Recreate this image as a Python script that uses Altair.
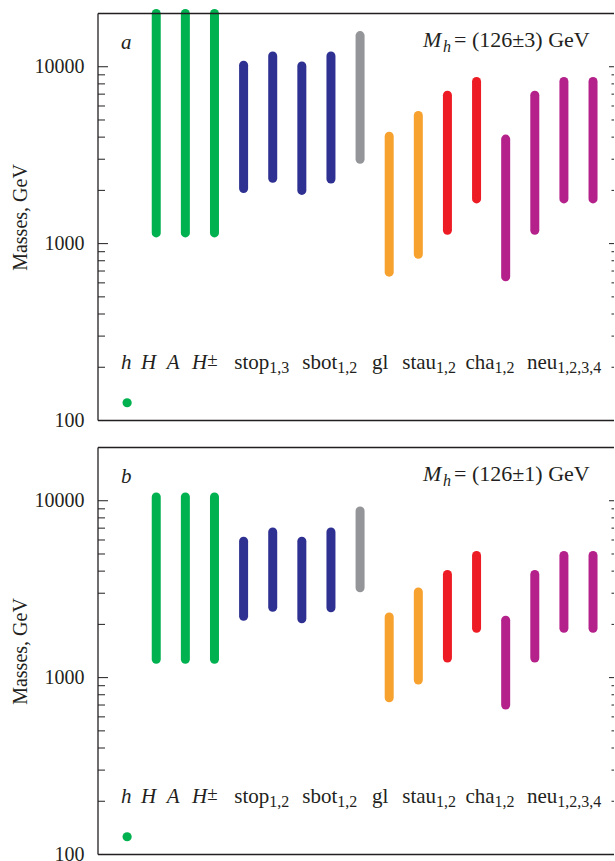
import altair as alt
import pandas as pd

FONT = "Liberation Serif"
INK = "#231f20"

# ---- data -------------------------------------------------------------
positions = list(range(1, 17))
bar_colors = (["#00b14f"] * 3 + ["#2e3192"] * 4 + ["#939598"] +
              ["#f7a12f"] * 2 + ["#ed1c24"] * 2 + ["#b5218a"] * 4)

h_mass = 126
h_pos = 0

# panel a: M_h = 126 +- 3 GeV
a_low = [1150, 1150, 1150, 2050, 2340, 2000, 2320, 3000, 690, 870, 1190, 1790, 650, 1190, 1790, 1790]
a_high = [20000, 20000, 20000, 10200, 11500, 10100, 11500, 15000, 4050, 5300, 6900, 8250, 3900, 6900, 8250, 8250]

# panel b: M_h = 126 +- 1 GeV
b_low = [1270, 1270, 1270, 2220, 2500, 2150, 2480, 3220, 770, 970, 1290, 1900, 700, 1290, 1900, 1900]
b_high = [10500, 10500, 10500, 5900, 6660, 5900, 6660, 8760, 2200, 3050, 3830, 4900, 2110, 3830, 4900, 4900]

major_ticks = [100, 1000, 10000]
minor_ticks = [200, 300, 400, 500, 600, 700, 800, 900,
               2000, 3000, 4000, 5000, 6000, 7000, 8000, 9000]

label_main = ["h", "H", "A", "H", "stop", "sbot", "gl", "stau", "cha", "neu"]
label_italic = [True, True, True, True, False, False, False, False, False, False]
label_anchor = [0.15, 1.0, 1.8, 2.75, 4.88, 7.22, 8.97, 10.61, 12.62, 14.77]
label_sup = ["", "", "", "±", "", "", "", "", "", ""]
label_sub_a = ["", "", "", "", "1,3", "1,2", "", "1,2", "1,2", "1,2,3,4"]
label_sub_b = ["", "", "", "", "1,2", "1,2", "", "1,2", "1,2", "1,2,3,4"]

W, H = 516, 407
X_MAX = 16.72

YAXIS = alt.Axis(values=major_ticks, format="d", ticks=False, domain=False,
                 grid=False, labelFont=FONT, labelFontSize=20, labelColor=INK,
                 labelPadding=14, titleFont=FONT, titleFontSize=20,
                 titleFontWeight="normal", titleColor=INK, titlePadding=4,
                 title="Masses, GeV")


def panel(low, high, subs, letter, mh_rest):
    ys = alt.Scale(type="log", domain=[100, 20000], nice=False)
    xs = alt.Scale(domain=[-1, X_MAX], nice=False, zero=False)

    def Y(field):
        return alt.Y(field, scale=ys, axis=YAXIS)

    def X(field):
        return alt.X(field, scale=xs, axis=None)

    bars = pd.DataFrame({"pos": positions, "low": low, "high": high, "color": bar_colors})
    bar_layer = alt.Chart(bars).mark_rule(strokeWidth=9, strokeCap="round").encode(
        x=X("pos:Q"), y=Y("low:Q"), y2="high:Q",
        color=alt.Color("color:N", scale=None),
    )

    hdf = pd.DataFrame({"pos": [h_pos], "m": [h_mass]})
    h_layer = alt.Chart(hdf).mark_circle(size=85, color="#00b14f", opacity=1).encode(
        x=X("pos:Q"), y=Y("m:Q"))

    maj = pd.DataFrame({"v": major_ticks})
    mnr = pd.DataFrame({"v": minor_ticks})
    tick_layers = []
    for df, ln, rn in ((maj, 10, 5), (mnr, 7, 2.5)):
        tick_layers.append(alt.Chart(df).mark_rule(color=INK, strokeWidth=1).encode(
            y=Y("v:Q"), x=alt.value(0), x2=alt.value(ln)))
        tick_layers.append(alt.Chart(df).mark_rule(color=INK, strokeWidth=1).encode(
            y=Y("v:Q"), x=alt.value(W), x2=alt.value(W - rn)))

    lab = pd.DataFrame({"main": label_main, "it": label_italic, "x": label_anchor,
                        "sub": subs, "sup": label_sup})
    lab_it = alt.Chart(lab).transform_filter("datum.it").mark_text(
        font=FONT, fontSize=21, fontStyle="italic", align="right", baseline="alphabetic",
        color=INK).encode(x=X("x:Q"), y=alt.value(355), text="main:N")
    lab_rm = alt.Chart(lab).transform_filter("!datum.it").mark_text(
        font=FONT, fontSize=21, align="right", baseline="alphabetic",
        color=INK).encode(x=X("x:Q"), y=alt.value(355), text="main:N")
    lab_sub = alt.Chart(lab).transform_filter("datum.sub != ''").mark_text(
        font=FONT, fontSize=16, align="left", baseline="alphabetic",
        color=INK).encode(x=X("x:Q"), y=alt.value(359), text="sub:N")
    lab_sup = alt.Chart(lab).transform_filter("datum.sup != ''").mark_text(
        font=FONT, fontSize=19, align="left", baseline="alphabetic",
        color=INK).encode(x=X("x:Q"), y=alt.value(352), text="sup:N")

    ann = pd.DataFrame({"letter": [letter], "M": ["M"], "h": ["h"], "rest": [mh_rest]})
    letter_layer = alt.Chart(ann).mark_text(font=FONT, fontSize=21, fontStyle="italic",
                                            align="left", baseline="alphabetic", color=INK).encode(
        x=alt.value(23), y=alt.value(35), text="letter:N")
    m_layer = alt.Chart(ann).mark_text(font=FONT, fontSize=22, fontStyle="italic",
                                       align="left", baseline="alphabetic", color=INK).encode(
        x=alt.value(325), y=alt.value(33), text="M:N")
    hsub_layer = alt.Chart(ann).mark_text(font=FONT, fontSize=16, fontStyle="italic",
                                          align="left", baseline="alphabetic", color=INK).encode(
        x=alt.value(345), y=alt.value(38), text="h:N")
    rest_layer = alt.Chart(ann).mark_text(font=FONT, fontSize=22,
                                          align="left", baseline="alphabetic", color=INK).encode(
        x=alt.value(356), y=alt.value(33), text="rest:N")

    # frame: top, bottom and left edges (the right edge lies beyond the picture)
    frame = [
        alt.Chart(ann).mark_rule(color=INK, strokeWidth=1.3).encode(
            x=alt.value(0), x2=alt.value(W), y=alt.value(0)),
        alt.Chart(ann).mark_rule(color=INK, strokeWidth=1.3).encode(
            x=alt.value(0), x2=alt.value(W), y=alt.value(H)),
        alt.Chart(ann).mark_rule(color=INK, strokeWidth=1.3).encode(
            x=alt.value(0), y=alt.value(0), y2=alt.value(H)),
    ]

    return alt.layer(bar_layer, h_layer, *tick_layers, *frame, lab_it, lab_rm, lab_sub, lab_sup,
                     letter_layer, m_layer, hsub_layer, rest_layer).properties(width=W, height=H)


pa = panel(a_low, a_high, label_sub_a, "a", "= (126±3) GeV")
pb = panel(b_low, b_high, label_sub_b, "b", "= (126±1) GeV")

chart = alt.vconcat(pa, pb, spacing=16).configure_view(
    strokeWidth=0).properties(
    padding={"left": 10, "top": 8.5, "right": 0, "bottom": -4}, background="white")

chart.save("out.html", embed_options={"renderer": "svg", "actions": False})
